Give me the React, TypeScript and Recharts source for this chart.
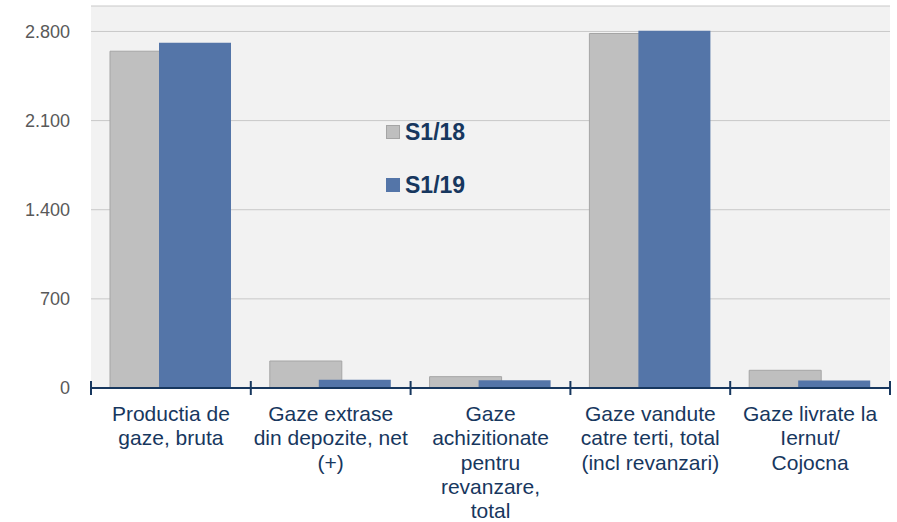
import React from 'react';
import { BarChart, Bar, XAxis, YAxis, CartesianGrid } from 'recharts';

const categories = [
  'Productia de\ngaze, bruta',
  'Gaze extrase\ndin depozite, net\n(+)',
  'Gaze\nachizitionate\npentru\nrevanzare,\ntotal',
  'Gaze vandute\ncatre terti, total\n(incl revanzari)',
  'Gaze livrate la\nIernut/\nCojocna',
];
const s118 = [2645, 212, 89, 2784, 139];
const s119 = [2711, 65, 60, 2805, 58];
const yTicks = [0, 700, 1400, 2100, 2800];

const data = categories.map((name, i) => ({ name, s118: s118[i], s119: s119[i] }));

const W = 897;
const H = 522;
const PLOT_LEFT = 91;
const PLOT_RIGHT = 890;
const BAND = (PLOT_RIGHT - PLOT_LEFT) / categories.length;

const NAVY = '#17375E';
const GRAY = '#BFBFBF';
const BLUE = '#5475A8';
const FONT = "'Liberation Sans', Arial, sans-serif";

const fmt = (v: number) => v.toString().replace(/\B(?=(\d{3})+(?!\d))/g, '.');

const XTick = (props: any) => {
  const { x, y, payload, index } = props;
  const lines = String(payload.value).split('\n');
  return (
    <g>
      <line x1={x - BAND / 2} x2={x - BAND / 2} y1={y - 7} y2={y + 7} stroke={NAVY} strokeWidth={2} />
      {index === categories.length - 1 && (
        <line x1={x + BAND / 2} x2={x + BAND / 2} y1={y - 7} y2={y + 7} stroke={NAVY} strokeWidth={2} />
      )}
      <text x={x} y={y + 33} textAnchor="middle" fill={NAVY} fontSize={21} fontFamily={FONT}>
        {lines.map((l, i) => (
          <tspan key={i} x={x} dy={i === 0 ? 0 : 24.3}>{l}</tspan>
        ))}
      </text>
    </g>
  );
};

const legendItems = [
  { label: 'S1/18', fill: GRAY, stroke: '#A5A5A5', top: 118 },
  { label: 'S1/19', fill: BLUE, stroke: BLUE, top: 171 },
];

export default function App() {
  return (
    <div style={{ position: 'absolute', left: 0, top: 0, width: W, height: H, background: '#fff' }}>
      <BarChart
        width={W}
        height={H}
        data={data}
        margin={{ top: 6, right: W - PLOT_RIGHT, left: 0, bottom: 0 }}
        barSize={72}
        barGap={-23}
      >
        <CartesianGrid vertical={false} stroke="#C8C8C8" fill="#F2F2F2" />
        <XAxis
          dataKey="name"
          height={134}
          interval={0}
          tickLine={false}
          tickSize={0}
          tickMargin={0}
          axisLine={{ stroke: NAVY, strokeWidth: 2 }}
          tick={<XTick />}
        />
        <YAxis
          width={PLOT_LEFT}
          domain={[0, 3000]}
          ticks={yTicks}
          tickFormatter={fmt}
          axisLine={false}
          tickLine={false}
          tickSize={0}
          tickMargin={21}
          tick={{ fill: '#595959', fontSize: 18, fontFamily: FONT }}
        />
        <Bar dataKey="s118" name="S1/18" fill={GRAY} stroke="#A5A5A5" strokeWidth={1} isAnimationActive={false} />
        <Bar dataKey="s119" name="S1/19" fill={BLUE} isAnimationActive={false} />
      </BarChart>
      {legendItems.map((it) => (
        <div
          key={it.label}
          style={{ position: 'absolute', left: 386, top: it.top, height: 28, display: 'flex', alignItems: 'center', fontFamily: FONT }}
        >
          <div style={{ width: 12, height: 12, background: it.fill, border: `1px solid ${it.stroke}`, marginRight: 5 }} />
          <span style={{ color: NAVY, fontWeight: 'bold', fontSize: 23 }}>{it.label}</span>
        </div>
      ))}
    </div>
  );
}
